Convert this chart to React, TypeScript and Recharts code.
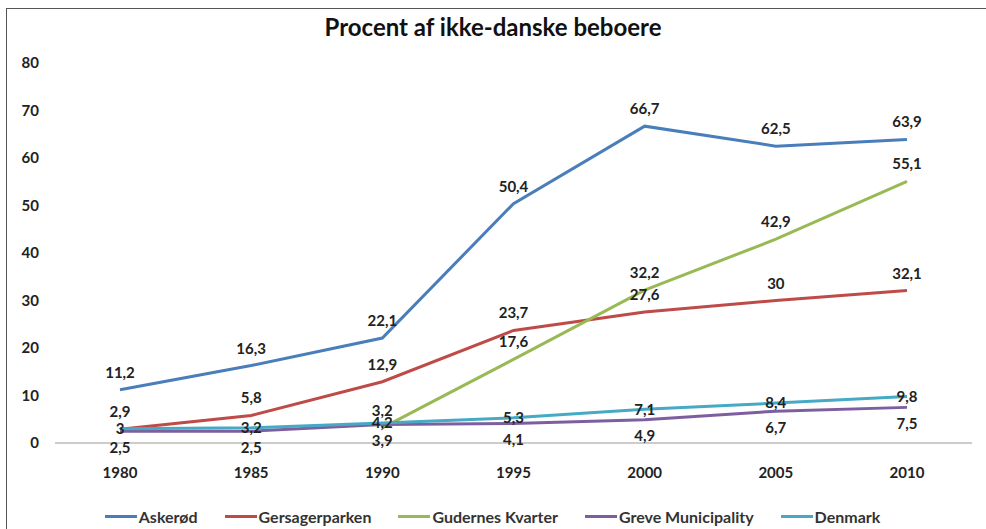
import { LineChart, Line, XAxis, YAxis, LabelList, Legend } from 'recharts';

const years = ['1980', '1985', '1990', '1995', '2000', '2005', '2010'];
const askerod = [11.2, 16.3, 22.1, 50.4, 66.7, 62.5, 63.9];
const gersagerparken = [2.9, 5.8, 12.9, 23.7, 27.6, 30, 32.1];
const gudernes = [null, null, 3.2, 17.6, 32.2, 42.9, 55.1];
const greve = [2.5, 2.5, 3.9, 4.1, 4.9, 6.7, 7.5];
const denmark = [3, 3.2, 4.2, 5.3, 7.1, 8.4, 9.8];
const yTicks = [0, 10, 20, 30, 40, 50, 60, 70, 80];

const series = [
  { key: 'askerod', name: 'Askerød', color: '#4A7EBB', pos: 'top' },
  { key: 'gersagerparken', name: 'Gersagerparken', color: '#BE4B48', pos: 'top' },
  { key: 'gudernes', name: 'Gudernes Kvarter', color: '#98B954', pos: 'top' },
  { key: 'greve', name: 'Greve Municipality', color: '#7D5FA0', pos: 'bottom' },
  { key: 'denmark', name: 'Denmark', color: '#46AAC5', pos: 'center' },
];

const data = years.map((year, i) => ({
  year,
  askerod: askerod[i],
  gersagerparken: gersagerparken[i],
  gudernes: gudernes[i],
  greve: greve[i],
  denmark: denmark[i],
}));

const font = 'Lato, "Open Sans", sans-serif';
const fmt = (v: any) => (v == null ? '' : String(v).replace('.', ','));

function LegendRow() {
  return (
    <div style={{ display: 'flex', justifyContent: 'center', gap: 27, paddingLeft: 8, fontFamily: font, fontWeight: 700, fontSize: 16, color: '#333' }}>
      {series.map(s => (
        <div key={s.key} style={{ display: 'flex', alignItems: 'center' }}>
          <span style={{ display: 'inline-block', width: 32, height: 3, background: s.color, marginRight: 2 }} />
          <span>{s.name}</span>
        </div>
      ))}
    </div>
  );
}

export default function App() {
  return (
    <div style={{ position: 'absolute', left: 0, top: 0, width: 986, height: 529, background: '#fff', overflow: 'hidden' }}>
      {/* frame */}
      <div style={{ position: 'absolute', left: 6, top: 8, width: 990, height: 540, borderLeft: '1.5px solid #555', borderTop: '1.5px solid #555' }} />
      <div style={{ position: 'absolute', top: 12, width: 986, textAlign: 'center', fontFamily: font, fontWeight: 700, fontSize: 24, color: '#111' }}>
        Procent af ikke-danske beboere
      </div>
      <LineChart width={986} height={529} data={data} margin={{ top: 63, right: 14, left: 5, bottom: 0 }}>
        <XAxis
          dataKey="year"
          padding={{ left: 65, right: 65 }}
          axisLine={{ stroke: '#bbb', strokeWidth: 1.5 }}
          tickLine={false}
          tickMargin={18}
          height={67}
          tick={{ fill: '#222', fontSize: 15, fontWeight: 700, fontFamily: font }}
        />
        <YAxis
          domain={[0, 80]}
          ticks={yTicks}
          axisLine={false}
          tickLine={false}
          width={50}
          tickMargin={10}
          tick={{ fill: '#222', fontSize: 15, fontWeight: 700, fontFamily: font }}
        />
        <Legend verticalAlign="bottom" content={() => <LegendRow />} wrapperStyle={{ bottom: 3 }} />
        {series.map(s => (
          <Line
            key={s.key}
            dataKey={s.key}
            name={s.name}
            stroke={s.color}
            strokeWidth={3}
            dot={false}
            activeDot={false}
            isAnimationActive={false}
          >
            <LabelList
              dataKey={s.key}
              position={s.pos as any}
              offset={s.pos === 'top' ? 12 : 11}
              formatter={fmt}
              style={{ fill: '#222', fontSize: 15, fontWeight: 700, fontFamily: font }}
            />
          </Line>
        ))}
      </LineChart>
    </div>
  );
}
